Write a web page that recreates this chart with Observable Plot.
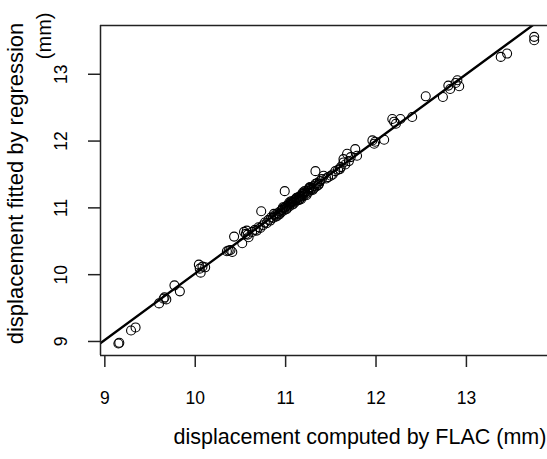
<!DOCTYPE html>
<html>
<head>
<meta charset="utf-8">
<script src="https://cdn.jsdelivr.net/npm/d3@7"></script>
<script src="https://cdn.jsdelivr.net/npm/@observablehq/plot@0.6"></script>
<style>
  html, body { margin: 0; padding: 0; background: white; }
</style>
</head>
<body>
<div id="chart"></div>
<script>
// displacement computed by FLAC (mm)
const flacX = [
  9.15, 9.16, 9.29, 9.34, 9.60, 9.65, 9.68, 9.66, 9.77, 9.83,
  10.04, 10.06, 10.08, 10.11, 10.05,
  10.35, 10.39, 10.41, 10.37, 10.43, 10.52,
  10.54, 10.58, 10.57, 10.59, 10.56,
  10.63, 10.66, 10.68, 10.70, 10.72, 10.73, 10.99, 11.33,
  10.75, 10.77, 10.79, 10.81, 10.83, 10.84, 10.86, 10.88, 10.89, 10.91,
  10.92, 10.94, 10.95, 10.96, 10.97, 10.98, 10.99, 11.00, 11.01, 11.02,
  11.03, 11.04, 11.05, 11.06, 11.07, 11.08, 11.09, 11.10, 11.11, 11.12,
  11.13, 11.14, 11.15, 11.16, 11.17, 11.18, 11.19, 11.20, 11.21, 11.22,
  11.24, 11.25, 11.26, 11.28, 11.29, 11.31, 11.32, 11.34, 11.35, 11.37, 11.38,
  10.87, 10.93, 10.97, 11.01, 11.04, 11.08, 11.12, 11.15, 11.19, 11.23,
  11.27, 11.30, 11.33, 11.36, 11.40, 10.90, 11.06, 11.17, 11.26, 11.21,
  11.42, 11.50, 11.45, 11.47, 11.52, 11.55, 11.58, 11.60,
  11.61, 11.64, 11.68, 11.77, 11.79, 11.72, 11.64, 11.70, 11.66,
  11.96, 11.98, 11.99, 12.09,
  12.18, 12.22, 12.27, 12.20, 12.40, 12.55, 12.74,
  12.80, 12.82, 12.90, 12.92, 12.88,
  13.38, 13.45, 13.75, 13.75
];
// displacement fitted by regression (mm)
const regY = [
  8.97, 8.98, 9.165, 9.21, 9.57, 9.64, 9.63, 9.66, 9.84, 9.75,
  10.15, 10.03, 10.12, 10.11, 10.09,
  10.35, 10.37, 10.34, 10.36, 10.57, 10.47,
  10.64, 10.60, 10.66, 10.56, 10.61,
  10.64, 10.67, 10.66, 10.71, 10.70, 10.95, 11.25, 11.55,
  10.74, 10.78, 10.77, 10.82, 10.81, 10.86, 10.85, 10.89, 10.87, 10.92,
  10.90, 10.95, 10.93, 10.97, 10.99, 10.96, 11.00, 11.02, 10.99, 11.03,
  11.05, 11.02, 11.06, 11.08, 11.05, 11.09, 11.11, 11.08, 11.12, 11.14,
  11.11, 11.15, 11.17, 11.14, 11.18, 11.20, 11.17, 11.21, 11.23, 11.20,
  11.25, 11.23, 11.28, 11.27, 11.30, 11.29, 11.33, 11.32, 11.37, 11.36, 11.40,
  10.91, 10.90, 11.01, 10.98, 11.08, 11.05, 11.15, 11.12, 11.23, 11.19,
  11.31, 11.27, 11.36, 11.34, 11.43, 10.87, 11.10, 11.13, 11.30, 11.25,
  11.48, 11.48, 11.44, 11.46, 11.50, 11.55, 11.57, 11.58,
  11.61, 11.68, 11.81, 11.88, 11.78, 11.76, 11.73, 11.70, 11.65,
  12.01, 11.96, 11.99, 12.02,
  12.33, 12.26, 12.33, 12.29, 12.36, 12.67, 12.66,
  12.83, 12.78, 12.91, 12.82, 12.87,
  13.26, 13.31, 13.56, 13.51
];
const xTicks = [9, 10, 11, 12, 13];
const yTicks = [9, 10, 11, 12, 13];
const xDomain = [8.952, 13.897];
const yDomain = [8.79, 13.73];
// reference line coefficients
const lineIntercept = 0.068;
const lineSlope = 0.995;
const lineX = [8.5, 14.5];
const xLabel = "displacement computed by FLAC (mm)";
const yLabel1 = "displacement fitted by regression";
const yLabel2 = "(mm)";

const points = flacX.map((x, i) => ({x, y: regY[i]}));
const fitLine = lineX.map(x => ({x, y: lineIntercept + lineSlope * x}));

const chart = Plot.plot({
  width: 547,
  height: 459,
  marginLeft: 100,
  marginRight: 0,
  marginTop: 25,
  marginBottom: 104,
  x: {domain: xDomain},
  y: {domain: yDomain},
  style: {fontFamily: "'Liberation Sans', Arial, sans-serif", background: "white", color: "black"},
  marks: [
    Plot.dot(points, {x: "x", y: "y", r: 4.5, stroke: "black", strokeWidth: 1.1, fill: "none"}),
    Plot.line(fitLine, {x: "x", y: "y", stroke: "black", strokeWidth: 2.3, clip: true}),
    Plot.ruleX([xDomain[0]], {stroke: "#222", strokeWidth: 1.5}),
    Plot.ruleY(yDomain, {stroke: "#222", strokeWidth: 1.5}),
    Plot.axisX({ticks: xTicks, tickFormat: d3.format("d"), tickSize: 12, tickPadding: 24, fontSize: 17.5, label: null, stroke: "#222", strokeWidth: 1.5}),
    Plot.axisY({ticks: yTicks, tickFormat: d3.format("d"), tickSize: 12, tickPadding: 22, tickRotate: -90, fontSize: 17.5, label: null, stroke: "#222", strokeWidth: 1.5}),
    Plot.text([xLabel], {text: d => d, frameAnchor: "bottom", dx: 36, dy: 82, fontSize: 21.5, textAnchor: "middle", lineAnchor: "middle"}),
    Plot.text([yLabel1], {text: d => d, frameAnchor: "left", dx: -85, dy: -7, rotate: -90, fontSize: 22, textAnchor: "middle", lineAnchor: "middle"}),
    Plot.text([yLabel2], {text: d => d, frameAnchor: "top-left", dx: -56, dy: -13, rotate: -90, fontSize: 20, textAnchor: "end", lineAnchor: "middle"})
  ]
});
document.getElementById("chart").appendChild(chart);
</script>
</body>
</html>
